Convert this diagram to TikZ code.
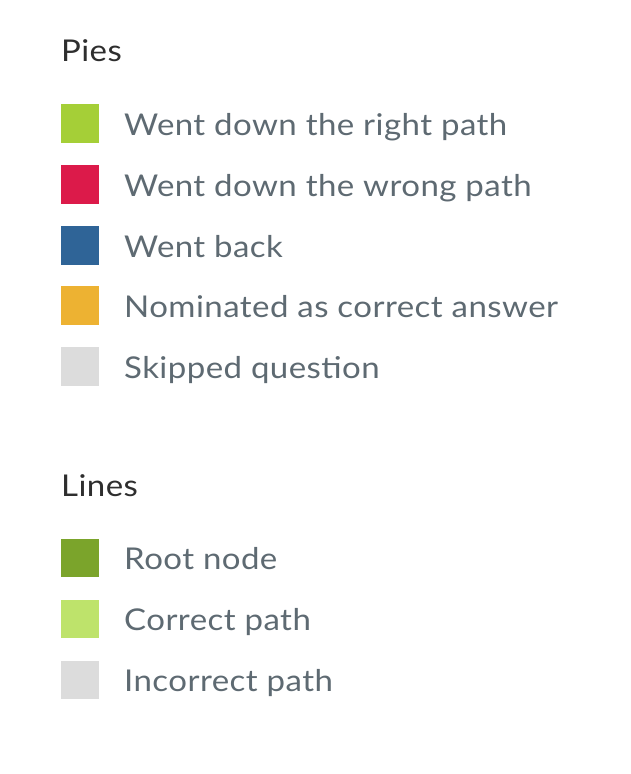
\documentclass[tikz,border=0pt]{standalone}
\usepackage{fontspec}
\setmainfont{Lato}[FakeStretch=1.1, LetterSpace=1.5]

\definecolor{rightpath}{HTML}{A5CF37}
\definecolor{wrongpath}{HTML}{DC1A4A}
\definecolor{wentback}{HTML}{2F6497}
\definecolor{nominated}{HTML}{EDB232}
\definecolor{skipped}{HTML}{DCDCDC}
\definecolor{rootnode}{HTML}{7BA42B}
\definecolor{correctpath}{HTML}{BEE36B}
\definecolor{incorrectpath}{HTML}{DCDCDC}
\definecolor{labeltext}{HTML}{5E6A72}
\definecolor{headtext}{HTML}{2E2E2E}

\begin{document}
\begin{tikzpicture}[x=1pt, y=-1pt]
    \tikzset{ swatch/.style={minimum size=38.5pt, inner sep=0pt, anchor=center},
              entry/.style={anchor=base west, inner sep=0pt, text=labeltext,
                            font=\fontsize{30}{36}\selectfont},
              heading/.style={anchor=base west, inner sep=0pt, text=headtext,
                            font=\fontsize{30}{36}\selectfont} }
    \useasboundingbox[fill=white] (0,0) rectangle (630,774);

    \node[heading] (pies) at (61,61) {Pies};

    \node[swatch, fill=rightpath] (sw-right) at (80,123.5) {};
    \node[entry] (lb-right) at (124,135) {Went down the right path};

    \node[swatch, fill=wrongpath] (sw-wrong) at (80,184.5) {};
    \node[entry] (lb-wrong) at (124,196) {Went down the wrong path};

    \node[swatch, fill=wentback] (sw-back) at (80,245.5) {};
    \node[entry] (lb-back) at (124,257) {Went back};

    \node[swatch, fill=nominated] (sw-nominated) at (80,305.5) {};
    \node[entry] (lb-nominated) at (124,317) {Nominated as correct answer};

    \node[swatch, fill=skipped] (sw-skipped) at (80,366.5) {};
    \node[entry] (lb-skipped) at (124,378) {Skipped question};

    \node[heading] (lines) at (61,496) {Lines};

    \node[swatch, fill=rootnode] (sw-root) at (80,558) {};
    \node[entry] (lb-root) at (124,569.5) {Root node};

    \node[swatch, fill=correctpath] (sw-correct) at (80,619) {};
    \node[entry] (lb-correct) at (124,630.5) {Correct path};

    \node[swatch, fill=incorrectpath] (sw-incorrect) at (80,680) {};
    \node[entry] (lb-incorrect) at (124,691.5) {Incorrect path};
\end{tikzpicture}
\end{document}
